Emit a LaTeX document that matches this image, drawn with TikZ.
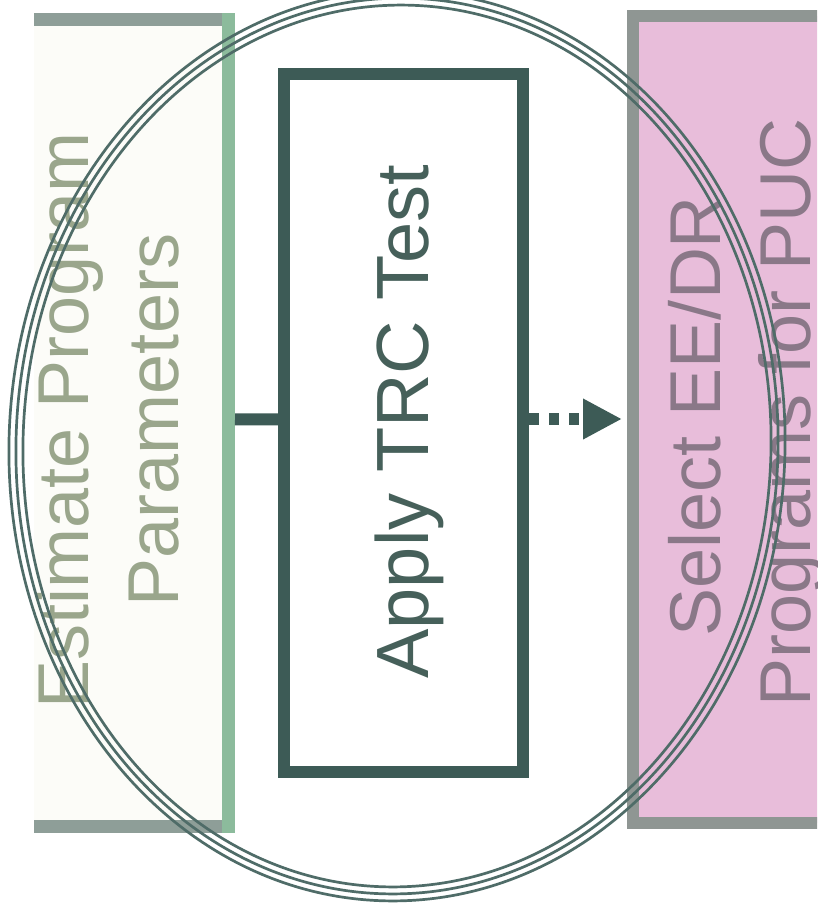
\documentclass[tikz,border=0pt]{standalone}
\usepackage{fontspec}
\setmainfont{Liberation Sans}
\usetikzlibrary{arrows.meta}
\definecolor{lbfill}{HTML}{FCFCF8}
\definecolor{lbedge}{HTML}{8E9E98}
\definecolor{lbright}{HTML}{8CBB9C}
\definecolor{lbtext}{HTML}{9AA68C}
\definecolor{mbedge}{HTML}{3D5B56}
\definecolor{mbtext}{HTML}{46605A}
\definecolor{rbfill}{HTML}{E8BDDA}
\definecolor{rbedge}{HTML}{8F9693}
\definecolor{rbtext}{HTML}{8A7888}
\definecolor{ringcol}{HTML}{4F6C68}
\tikzset{
  boxshape/.style={rectangle, inner sep=0pt, outer sep=0pt},
  sidetext/.style={font=\fontsize{72pt}{86pt}\selectfont, inner sep=0pt, anchor=base, rotate=90},
  midtext/.style={font=\fontsize{74pt}{88pt}\selectfont, inner sep=0pt, anchor=base, rotate=90, text=mbtext},
  solidconn/.style={draw=mbedge, line width=12pt},
  dashconn/.style={draw=mbedge, line width=12pt, dash pattern=on 10pt off 10pt,
    -{Triangle[length=39pt, width=38pt]}},
  ring/.style={draw=ringcol, line width=2.7pt}
}
\begin{document}
\begin{tikzpicture}[x=1pt, y=-1pt]
\useasboundingbox (0,0) rectangle (817,913);
\clip (0,0) rectangle (817,913);
\fill[white] (0,0) rectangle (817,913);

% left box (left side open)
\node[boxshape, fill=lbfill, minimum width=194.5pt, minimum height=806.5pt] (lb) at (131.25,422.75) {};
\draw[lbedge, line width=13pt] (lb.north west) -- (lb.north east);
\draw[lbedge, line width=13pt] (lb.south west) -- (lb.south east);
\draw[lbright, line width=13pt, line cap=rect] (lb.north east) -- (lb.south east);
\node[sidetext, text=lbtext] (lt1) at (88,420) {Estimate Program};
\node[sidetext, text=lbtext] (lt2) at (178,420) {Parameters};

% middle box
\node[boxshape, draw=mbedge, fill=white, line width=12pt, minimum width=239pt, minimum height=698pt] (mb) at (403.5,423) {};
\node[midtext] (mt) at (428,421.5) {Apply TRC Test};

% right box
\node[boxshape, draw=rbedge, fill=rbfill, line width=12pt, minimum width=207.5pt, minimum height=807pt] (rb) at (736.25,419) {};
\node[sidetext, text=rbtext] (rt1) at (720,416) {Select EE/DR};
\node[sidetext, text=rbtext] (rt2) at (810,412) {Programs for PUC};

% connectors
\draw[solidconn, shorten <=6.5pt, shorten >=6pt] ([yshift=3.5pt]lb.east) -- ([yshift=3.5pt]mb.west);
\draw[dashconn, shorten <=6pt, shorten >=10.5pt] ([yshift=4pt]mb.east) -- (rb.west);

% hand-drawn ring
\coordinate (ec) at (397,446);
\draw[ring, rotate around={-2:(ec)}] (ec) ellipse [x radius=388, y radius=455];
\draw[ring, rotate around={-2:(ec)}] (ec) ellipse [x radius=381, y radius=448];
\draw[ring, rotate around={-2:(ec)}] (ec) ellipse [x radius=374, y radius=441];
\end{tikzpicture}
\end{document}
